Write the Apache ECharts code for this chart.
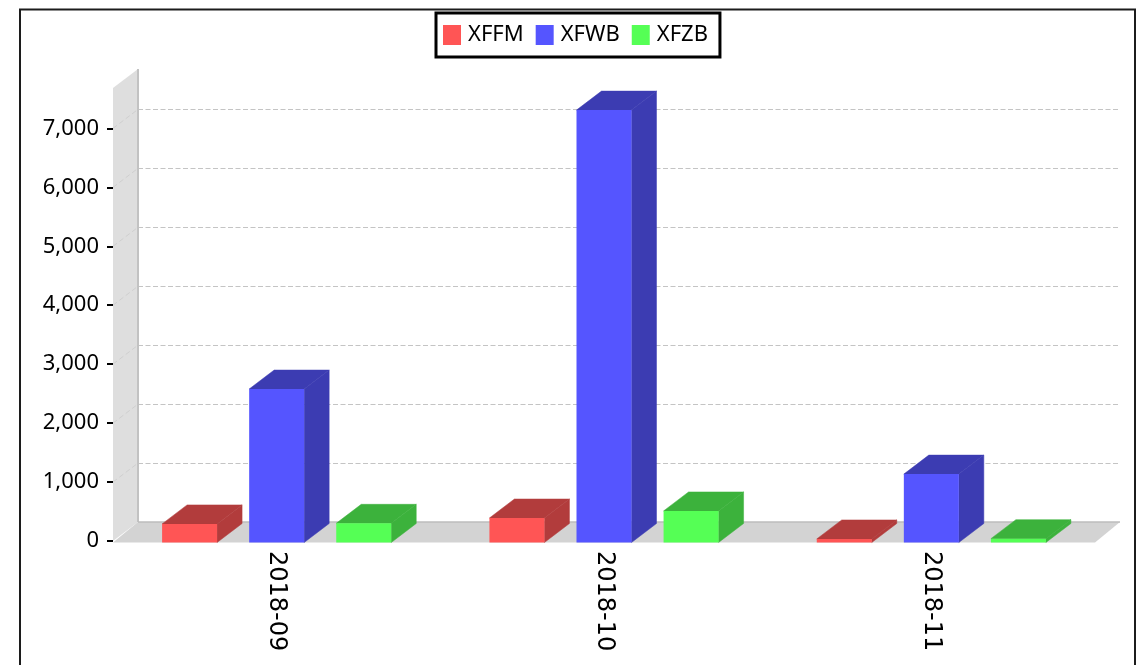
<!DOCTYPE html>
<html>
<head>
<meta charset="utf-8">
<style>html,body{margin:0;padding:0;background:#fff}#c{width:1140px;height:665px}</style>
<script src="https://cdn.jsdelivr.net/npm/echarts@6/dist/echarts.min.js"></script>
</head>
<body>
<div id="c"></div>
<script>
const categories = ['2018-09', '2018-10', '2018-11'];
const xffm = [290, 390, 35];
const xfwb = [2578, 7310, 1135];
const xfzb = [300, 510, 40];
const yTicks = [0, 1000, 2000, 3000, 4000, 5000, 6000, 7000];
const yMax = 7685;

const DX = 25, DY = -19;
const BAR_W = 0.168, BAR_STEP = 0.266;

function barSeries(name, values, slot, front, dark) {
  return {
    name, type: 'custom', xAxisIndex: 0, yAxisIndex: 0, z: 5 + slot,
    itemStyle: { color: front },
    data: values.map((v, i) => [i, v]),
    renderItem(params, api) {
      const band = api.size([1, 0])[0];
      const c = api.coord([api.value(0), api.value(1)]);
      const base = api.coord([api.value(0), 0])[1] + 1.5;
      const w = band * BAR_W;
      const x0 = c[0] + slot * band * BAR_STEP - w / 2;
      const x1 = x0 + w;
      const y = c[1];
      const poly = (points, fill) => ({ type: 'polygon', shape: { points }, style: { fill, stroke: fill, lineWidth: 0.5 } });
      return { type: 'group', children: [
        poly([[x0, y], [x0 + DX, y + DY], [x1 + DX, y + DY], [x1, y]], dark),
        poly([[x1, y], [x1 + DX, y + DY], [x1 + DX, base + DY], [x1, base]], dark),
        { type: 'rect', shape: { x: x0, y, width: w, height: base - y }, style: { fill: front } }
      ] };
    }
  };
}

const wallSeries = {
  name: 'walls', type: 'custom', xAxisIndex: 0, yAxisIndex: 0, z: 1, silent: true,
  data: [[0, 0]],
  renderItem(params, api) {
    const g = params.coordSys;
    const L = g.x, R = g.x + g.width, T = g.y, B = g.y + g.height;
    const kids = [
      { type: 'polygon', shape: { points: [[L, T], [L + DX, T + DY], [L + DX, B + DY], [L, B]] }, style: { fill: '#dedede' } },
      { type: 'polygon', shape: { points: [[L, B + 1.5], [L + DX, B + DY], [R + DX, B + DY], [R, B + 1.5]] }, style: { fill: '#d3d3d3' } },
      { type: 'line', shape: { x1: L + DX, y1: T + DY, x2: L + DX, y2: B + DY }, style: { stroke: '#c2c2c2', lineWidth: 2 } },
      { type: 'line', shape: { x1: L + DX, y1: B + DY, x2: R + DX, y2: B + DY }, style: { stroke: '#bdbdbd', lineWidth: 1.5 } }
    ];
    yTicks.slice(1).forEach(t => {
      const y = api.coord([0, t])[1];
      kids.push({ type: 'line', shape: { x1: L, y1: y, x2: L + DX, y2: y + DY }, style: { stroke: '#cfcfcf', lineWidth: 1, lineDash: [5, 3] } });
    });
    return { type: 'group', children: kids };
  }
};

const labelFont = '"Noto Sans", sans-serif';
const chart = echarts.init(document.getElementById('c'), null, { renderer: 'canvas' });
chart.setOption({
  animation: false,
  backgroundColor: '#fff',
  graphic: [{
    type: 'rect', z: -1, silent: true,
    shape: { x: 20, y: 9.5, width: 1115, height: 720 },
    style: { fill: '#fff', stroke: '#1c1c1c', lineWidth: 2 }
  }],
  legend: {
    data: ['XFFM', 'XFWB', 'XFZB'],
    left: 436, top: 13,
    padding: [11, 12, 11, 7],
    backgroundColor: '#fff',
    borderColor: '#000', borderWidth: 3, borderRadius: 0,
    icon: 'rect', itemWidth: 18, itemHeight: 20, itemGap: 12,
    textStyle: { fontFamily: labelFont, fontSize: 22, color: '#000', padding: [2, 0, 0, 2] }
  },
  grid: [
    { left: 113, right: 45, top: 88, bottom: 124 },
    { left: 138, right: 20, top: 69, bottom: 143 }
  ],
  xAxis: [
    { type: 'category', gridIndex: 0, data: categories,
      axisLine: { show: false }, axisTick: { show: false },
      axisLabel: { rotate: -90, margin: 10, interval: 0, padding: [7, 0, 0, 0], fontFamily: '"DejaVu Sans", sans-serif', fontSize: 24, color: '#000' } },
    { type: 'category', gridIndex: 1, data: categories, show: false }
  ],
  yAxis: [
    { type: 'value', gridIndex: 0, min: 0, max: yMax, interval: 1000,
      axisLine: { show: false },
      axisTick: { show: true, length: 6, customValues: yTicks, lineStyle: { color: '#000', width: 2 } },
      axisLabel: { customValues: yTicks, margin: 14, padding: [5, 0, 0, 0], fontFamily: labelFont, fontSize: 22, color: '#000',
        formatter: v => Number(v).toLocaleString('en-US') },
      splitLine: { show: false } },
    { type: 'value', gridIndex: 1, min: 0, max: yMax, interval: 1000,
      axisLine: { show: false }, axisTick: { show: false }, axisLabel: { show: false },
      splitLine: { show: true, showMinLine: false, showMaxLine: false, lineStyle: { color: '#c4c4c4', width: 1.2, type: [5, 2.5] } } }
  ],
  series: [
    wallSeries,
    barSeries('XFFM', xffm, -1, '#ff5555', '#b23c3c'),
    barSeries('XFWB', xfwb, 0, '#5555ff', '#3c3cb2'),
    barSeries('XFZB', xfzb, 1, '#55ff55', '#3cb23c')
  ]
});
</script>
</body>
</html>
